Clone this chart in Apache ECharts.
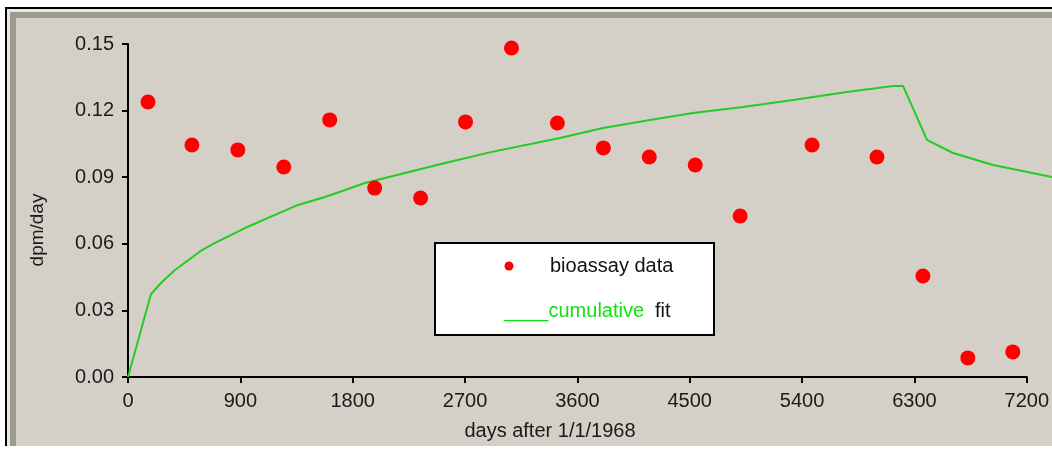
<!DOCTYPE html>
<html>
<head>
<meta charset="utf-8">
<script src="https://cdn.jsdelivr.net/npm/echarts@6/dist/echarts.min.js"></script>
<style>
  body { margin: 0; background: #ffffff; width: 1052px; height: 451px; overflow: hidden; position: relative; }
  #frame {
    position: absolute; left: 5px; top: 7px; width: 1047px; height: 437px;
    background: #d4d0c8;
    border-left: 2px solid #000; border-top: 2px solid #000;
    box-shadow: inset 3px 3px 0 #ebe8dd, inset 9px 9px 0 #9e9a8f;
  }
  #main { position: absolute; left: 0; top: 0; width: 1052px; height: 451px; }
</style>
</head>
<body>
<div id="frame"></div>
<div id="main"></div>
<script>
// bioassay measurements (days after 1/1/1968, dpm/day)
var bioDays = [160, 512, 880, 1248, 1616, 1976, 2344, 2704, 3072, 3440, 3808, 4176, 4544, 4904, 5480, 6000, 6368, 6728, 7088];
var bioValues = [0.1239, 0.1045, 0.1023, 0.0946, 0.1158, 0.0851, 0.0806, 0.1149, 0.1482, 0.1144, 0.1032, 0.0991, 0.0955, 0.0725, 0.1045, 0.0991, 0.0455, 0.0086, 0.0113];

// cumulative fit curve (runs a little past the end of the x axis)
var fitDays = [0, 184, 272, 376, 592, 696, 936, 1176, 1360, 1576, 1896, 2216, 2536, 2912, 3456, 3800, 4176, 4520, 4920, 5320, 5752, 6120, 6200, 6392, 6600, 6920, 7392];
var fitValues = [0, 0.0374, 0.0428, 0.0482, 0.0572, 0.0604, 0.0671, 0.0730, 0.0775, 0.0811, 0.0874, 0.0919, 0.0964, 0.1014, 0.1077, 0.1122, 0.1158, 0.1189, 0.1216, 0.1248, 0.1284, 0.1311, 0.1311, 0.1068, 0.1009, 0.0955, 0.0901];

var font = "Arial, 'Liberation Sans', sans-serif";
var chart = echarts.init(document.getElementById("main"));

var option = {
  backgroundColor: "transparent",
  animation: false,
  grid: [
    { left: 128, right: 24, top: 44, bottom: 74 },
    // same scale, stretched to the window edge so the fit line is not cut at 7200
    { left: 128, right: 0, top: 44, bottom: 74 },
  ],
  xAxis: [
    {
      type: "value",
      min: 0,
      max: 7200,
      interval: 900,
      axisLine: { lineStyle: { color: "#000", width: 2 } },
      axisTick: { length: 6, lineStyle: { color: "#000", width: 2 } },
      axisLabel: {
        color: "#1a1a1a", fontSize: 20, fontFamily: font, margin: 14,
        formatter: function (v) { return String(v); },
      },
      splitLine: { show: false },
    },
    { type: "value", gridIndex: 1, min: 0, max: 7392, show: false, splitLine: { show: false } },
  ],
  yAxis: [
    {
      type: "value",
      min: 0,
      max: 0.15,
      interval: 0.03,
      axisLine: { show: true, lineStyle: { color: "#000", width: 2 } },
      axisTick: { show: true, length: 6, lineStyle: { color: "#000", width: 2 } },
      axisLabel: {
        color: "#1a1a1a", fontSize: 20, fontFamily: font, margin: 14,
        formatter: function (v) { return v.toFixed(2); },
      },
      splitLine: { show: false },
    },
    { type: "value", gridIndex: 1, min: 0, max: 0.15, show: false, splitLine: { show: false } },
  ],
  series: [
    {
      name: "cumulative fit",
      type: "line",
      xAxisIndex: 1,
      yAxisIndex: 1,
      data: fitDays.map(function (d, i) { return [d, fitValues[i]]; }),
      symbol: "none",
      clip: false,
      lineStyle: { color: "#22cc22", width: 2 },
      z: 2,
    },
    {
      name: "bioassay data",
      type: "scatter",
      data: bioDays.map(function (d, i) { return [d, bioValues[i]]; }),
      symbol: "circle",
      symbolSize: 15,
      itemStyle: { color: "#ff0000", opacity: 1 },
      z: 3,
    },
  ],
  graphic: [
    {
      type: "text", x: 550, y: 431,
      style: { text: "days after 1/1/1968", fill: "#1a1a1a", font: "20px " + font, align: "center", verticalAlign: "middle" },
    },
    {
      type: "text", x: 38, y: 230, rotation: Math.PI / 2,
      style: { text: "dpm/day", fill: "#1a1a1a", font: "19px " + font, align: "center", verticalAlign: "middle" },
    },
    {
      type: "rect", x: 435, y: 243,
      shape: { width: 279, height: 92 },
      style: { fill: "#ffffff", stroke: "#000", lineWidth: 2 },
      z: 10,
    },
    {
      type: "circle", x: 509, y: 266,
      shape: { r: 4.5 },
      style: { fill: "#ff0000" },
      z: 11,
    },
    {
      type: "text", x: 550, y: 266,
      style: { text: "bioassay data", fill: "#111", font: "20px " + font, verticalAlign: "middle" },
      z: 11,
    },
    {
      type: "text", x: 504, y: 311,
      style: { text: "____cumulative", fill: "#11e011", font: "20px " + font, verticalAlign: "middle" },
      z: 11,
    },
    {
      type: "text", x: 655, y: 311,
      style: { text: "fit", fill: "#111", font: "20px " + font, verticalAlign: "middle" },
      z: 11,
    },
  ],
};

chart.setOption(option);
</script>
</body>
</html>
